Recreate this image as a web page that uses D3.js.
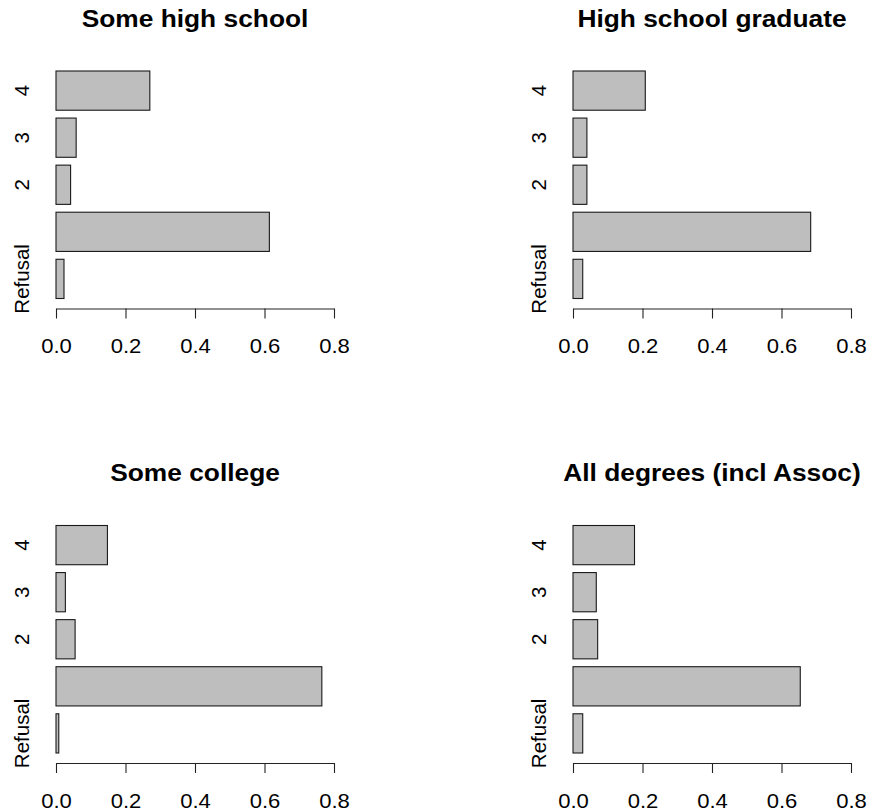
<!DOCTYPE html>
<html>
<head>
<meta charset="utf-8">
<script src="https://cdn.jsdelivr.net/npm/d3@7"></script>
<style>
  html, body { margin: 0; padding: 0; background: #fff; }
  svg { display: block; }
  text { font-family: "Liberation Sans", Arial, Helvetica, sans-serif; fill: #000; }
</style>
</head>
<body>
<svg id="chart" width="869" height="812"></svg>
<script>
// ---- data ----
const categories = ["Refusal", "1", "2", "3", "4"];
const panelTitles = ["Some high school", "High school graduate", "Some college", "All degrees (incl Assoc)"];
const someHighSchool   = [0.023, 0.614, 0.042, 0.058, 0.270];
const highSchoolGrad   = [0.028, 0.684, 0.040, 0.040, 0.208];
const someCollege      = [0.008, 0.765, 0.055, 0.027, 0.148];
const allDegrees       = [0.028, 0.654, 0.071, 0.067, 0.177];
const xTicks = [0, 0.2, 0.4, 0.6, 0.8];
const xDomain = [0, 0.8];

const seriesList = [someHighSchool, highSchoolGrad, someCollege, allDegrees];

// ---- layout ----
const svg = d3.select("#chart");
const colX = [56, 573];       // pixel of x = 0
const xSpan = 278;            // pixel length of 0..0.8
const rowDY = [0, 454.5];
const barTop = 71, barBottom = 298.5, axisY = 308.5;
const labFont = 20.5;

seriesList.forEach((vals, p) => {
  const col = p % 2, row = Math.floor(p / 2);
  const dy = rowDY[row];
  const g = svg.append("g");

  const x = d3.scaleLinear().domain(xDomain).range([colX[col], colX[col] + xSpan]);
  // R barplot positions: bar i spans [0.2 + 1.2 i, 1.2 + 1.2 i]
  const y = d3.scaleLinear().domain([0.2, 6.0]).range([barBottom + dy, barTop + dy]);

  // bars
  g.selectAll("rect.bar")
    .data(vals.map((v, i) => ({ v, i, c: categories[i] })))
    .join("rect")
    .attr("class", "bar")
    .attr("x", x(0))
    .attr("width", d => x(d.v) - x(0))
    .attr("y", d => y(1.2 + 1.2 * d.i))
    .attr("height", d => y(0.2 + 1.2 * d.i) - y(1.2 + 1.2 * d.i))
    .attr("fill", "#bebebe")
    .attr("stroke", "#1a1a1a")
    .attr("stroke-width", 1.1);

  // category labels (rotated), skipping overlapping ones like R does (gap of one char)
  const labG = g.append("g");
  const labX = x(0) - 27;
  let lastTop = Infinity;
  categories.forEach((c, i) => {
    const cy = y(0.7 + 1.2 * i);
    const t = labG.append("text")
      .attr("transform", `translate(${labX},${cy}) rotate(-90)`)
      .attr("text-anchor", "middle")
      .style("font-size", labFont + "px")
      .text(c);
    const len = t.node().getComputedTextLength();
    const bottom = cy + len / 2, top = cy - len / 2;
    if (bottom > lastTop - labFont * 0.8) {
      t.remove();
    } else {
      lastTop = top;
    }
  });

  // x axis
  const axis = d3.axisBottom(x).tickValues(xTicks).tickFormat(d3.format(".1f"))
    .tickSize(10).tickSizeOuter(0);
  const ax = g.append("g")
    .attr("transform", `translate(0,${axisY + dy})`)
    .call(axis);
  ax.select(".domain").attr("stroke", "#222").attr("stroke-width", 1.1);
  ax.selectAll(".tick line").attr("stroke", "#222").attr("stroke-width", 1.1);
  ax.selectAll(".tick text")
    .attr("y", 44.8)
    .attr("dy", null)
    .attr("fill", "#000")
    .style("font-size", "21px")
    .style("font-family", '"Liberation Sans", Arial, sans-serif')
    .attr("transform", "scale(1.05,1)");

  // title
  g.append("text")
    .attr("transform", `translate(${x(0.4)},${26.7 + dy}) scale(1.13,1)`)
    .attr("text-anchor", "middle")
    .style("font-size", "23.3px")
    .style("font-weight", "bold")
    .text(panelTitles[p]);
});
</script>
</body>
</html>
